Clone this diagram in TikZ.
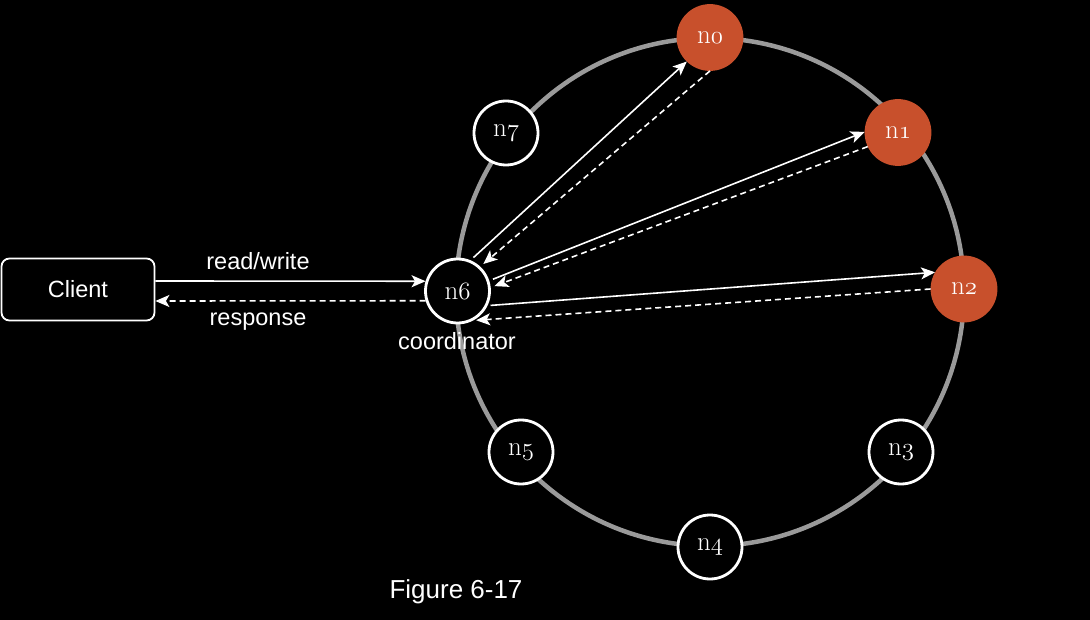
\documentclass[tikz,border=0pt]{standalone}
\usepackage{fontspec}
\setmainfont{Liberation Sans}
\newfontfamily\serifnode{Latin Modern Roman}
\usetikzlibrary{arrows.meta}
\definecolor{ringgray}{HTML}{9A9A9A}
\definecolor{hot}{HTML}{C8502C}
\begin{document}
\begin{tikzpicture}[x=1pt,y=-1pt,
  ringnode/.style={circle,draw=white,line width=2.8pt,fill=black,minimum size=64pt,inner sep=0pt,text=white,font=\serifnode\fontsize{27}{27}\selectfont},
  hotnode/.style={ringnode,fill=hot,draw=hot},
  conn/.style={white,line width=1.6pt,-{Stealth[length=14pt,width=12pt,inset=3.5pt]}},
  back/.style={conn,dash pattern=on 6pt off 4pt},
  lbl/.style={text=white,font=\fontsize{23.5}{26}\selectfont}]
\fill[black] (0,0) rectangle (1090,620);
\useasboundingbox (0,0) rectangle (1090,620);
\draw[ringgray,line width=4.5pt] (710,292) circle[radius=254];
\node[hotnode] (n0) at (710,37.5) {n$\mathnormal{0}$};
\node[hotnode] (n1) at (898,132.5) {n$\mathnormal{1}$};
\node[hotnode] (n2) at (964,289) {n$\mathnormal{2}$};
\node[ringnode] (n3) at (901,452) {n$\mathnormal{3}$};
\node[ringnode] (n4) at (710,547) {n$\mathnormal{4}$};
\node[ringnode] (n5) at (521,452) {n$\mathnormal{5}$};
\node[ringnode] (n6) at (457.5,291) {n$\mathnormal{6}$};
\node[ringnode] (n7) at (506,133) {n$\mathnormal{7}$};
\node[draw=white,line width=1.8pt,rounded corners=8pt,minimum width=153pt,minimum height=62pt,inner sep=0pt,fill=black,lbl] (client) at (78,289.5) {Client};
\node[lbl] (rw) at (258,261) {read/write};
\node[lbl] (resp) at (258,322) {response};
\node[lbl] (coord) at (457,341) {coordinator};
\node[lbl,font=\fontsize{26}{28}\selectfont] (fig) at (456,592) {Figure 6-17};
% client <-> coordinator
\draw[conn] ([yshift=8.5pt]client.east) -- (n6.163);
\draw[back] (n6.197) -- ([yshift=-11.5pt]client.east);
% coordinator <-> replicas
\draw[conn,shorten <=4pt] (n6.67) -- (n0.226);
\draw[back,shorten >=4pt] (n0.270) -- (n6.47);
\draw[conn,shorten <=4pt] (n6.18) -- (n1.179);
\draw[back,shorten >=4pt] (n1.205) -- (n6.6);
\draw[conn,shorten <=3pt] (n6.334) -- (n2.150);
\draw[back,shorten >=3pt] (n2.180) -- (n6.298);
\end{tikzpicture}
\end{document}
